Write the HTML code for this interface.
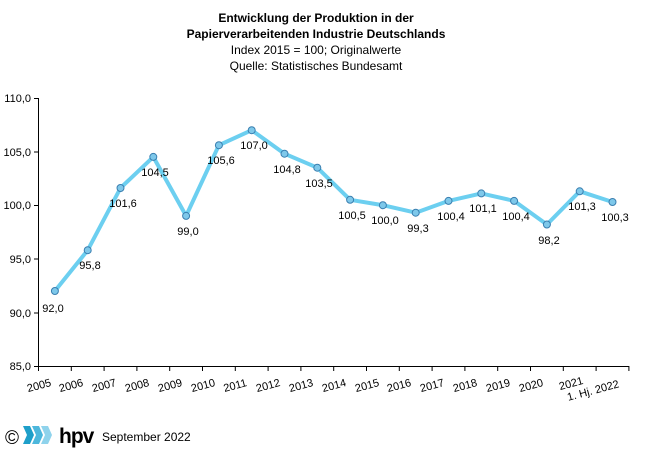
<!DOCTYPE html>
<html><head><meta charset="utf-8"><style>
body{margin:0;background:#fff;}
svg{display:block;font-family:"Liberation Sans",Arial,sans-serif;}
</style></head><body>
<svg width="650" height="472" viewBox="0 0 650 472">
<g text-anchor="middle" font-size="12" fill="#000">
<text x="316" y="22" font-weight="bold">Entwicklung der Produktion  in der</text>
<text x="316" y="38" font-weight="bold">Papierverarbeitenden Industrie Deutschlands</text>
<text x="316" y="54">Index 2015  = 100;  Originalwerte</text>
<text x="316" y="70">Quelle:  Statistisches Bundesamt</text>
</g>
<g stroke="#000" stroke-width="1">
<line x1="38.5" y1="98" x2="38.5" y2="366"/>
<line x1="38" y1="366.5" x2="629" y2="366.5"/>
<line x1="34" y1="98.5" x2="38" y2="98.5"/>
<line x1="34" y1="152" x2="38" y2="152"/>
<line x1="34" y1="205.5" x2="38" y2="205.5"/>
<line x1="34" y1="259" x2="38" y2="259"/>
<line x1="34" y1="313" x2="38" y2="313"/>
<line x1="34" y1="366.5" x2="38" y2="366.5"/>
<path d="M38.5 366v5M71.3 366v5M104.1 366v5M136.9 366v5M169.7 366v5M202.5 366v5M235.3 366v5M268.1 366v5M300.9 366v5M333.7 366v5M366.5 366v5M399.3 366v5M432.1 366v5M464.9 366v5M497.7 366v5M530.5 366v5M563.3 366v5M596.1 366v5M628.9 366v5"/>
</g>
<g font-size="11" text-anchor="end">
<text x="31" y="102">110,0</text>
<text x="31" y="156">105,0</text>
<text x="31" y="209">100,0</text>
<text x="31" y="263">95,0</text>
<text x="31" y="317">90,0</text>
<text x="31" y="370">85,0</text>
</g>
<g font-size="11" text-anchor="middle">
<text transform="translate(40,389) rotate(-15)">2005</text>
<text transform="translate(72,389) rotate(-15)">2006</text>
<text transform="translate(105,389) rotate(-15)">2007</text>
<text transform="translate(138,389) rotate(-15)">2008</text>
<text transform="translate(171,389) rotate(-15)">2009</text>
<text transform="translate(204,389) rotate(-15)">2010</text>
<text transform="translate(236,389) rotate(-15)">2011</text>
<text transform="translate(269,389) rotate(-15)">2012</text>
<text transform="translate(302,389) rotate(-15)">2013</text>
<text transform="translate(335,389) rotate(-15)">2014</text>
<text transform="translate(368,389) rotate(-15)">2015</text>
<text transform="translate(400,389) rotate(-15)">2016</text>
<text transform="translate(433,389) rotate(-15)">2017</text>
<text transform="translate(466,389) rotate(-15)">2018</text>
<text transform="translate(499,389) rotate(-15)">2019</text>
<text transform="translate(532,389) rotate(-15)">2020</text>
<text transform="translate(572,387) rotate(-15)">2021</text>
<text transform="translate(594,394) rotate(-15)">1. Hj. 2022</text>
</g>
<polyline fill="none" stroke="#6ccff0" stroke-width="4" stroke-linejoin="round" points="54.9,291 87.7,250.2 120.5,188 153.3,156.9 186.1,215.9 218.9,145.2 251.7,130.2 284.5,153.7 317.3,167.7 350.1,199.8 382.9,205.2 415.7,212.7 448.5,200.9 481.3,193.4 514.1,200.9 546.9,224.5 579.7,191.3 612.5,202"/>
<g fill="#7ec8ea" stroke="#3a7fb0" stroke-width="1">
<circle cx="54.9" cy="291" r="3.5"/><circle cx="87.7" cy="250.2" r="3.5"/><circle cx="120.5" cy="188" r="3.5"/><circle cx="153.3" cy="156.9" r="3.5"/><circle cx="186.1" cy="215.9" r="3.5"/><circle cx="218.9" cy="145.2" r="3.5"/><circle cx="251.7" cy="130.2" r="3.5"/><circle cx="284.5" cy="153.7" r="3.5"/><circle cx="317.3" cy="167.7" r="3.5"/><circle cx="350.1" cy="199.8" r="3.5"/><circle cx="382.9" cy="205.2" r="3.5"/><circle cx="415.7" cy="212.7" r="3.5"/><circle cx="448.5" cy="200.9" r="3.5"/><circle cx="481.3" cy="193.4" r="3.5"/><circle cx="514.1" cy="200.9" r="3.5"/><circle cx="546.9" cy="224.5" r="3.5"/><circle cx="579.7" cy="191.3" r="3.5"/><circle cx="612.5" cy="202" r="3.5"/>
</g>
<g font-size="11" text-anchor="middle">
<text x="53" y="312">92,0</text>
<text x="90" y="269">95,8</text>
<text x="123" y="207">101,6</text>
<text x="155" y="176">104,5</text>
<text x="188" y="235">99,0</text>
<text x="221" y="164">105,6</text>
<text x="254" y="149">107,0</text>
<text x="287" y="173">104,8</text>
<text x="319" y="187">103,5</text>
<text x="352" y="219">100,5</text>
<text x="385" y="224">100,0</text>
<text x="418" y="232">99,3</text>
<text x="451" y="220">100,4</text>
<text x="483" y="212">101,1</text>
<text x="516" y="220">100,4</text>
<text x="549" y="244">98,2</text>
<text x="582" y="210">101,3</text>
<text x="615" y="221">100,3</text>
</g>
<text x="5" y="444" font-size="19">©</text>
<polygon points="23,426 30,426 34,435 30,444 23,444 27,435" fill="#1e9fc9"/>
<polygon points="32,426 39,426 43,435 39,444 32,444 36,435" fill="#4db7dc"/>
<polygon points="41,426 48,426 52,435 48,444 41,444 45,435" fill="#8fd3ec"/>
<text x="59" y="443" font-size="21" font-weight="bold" letter-spacing="-1">hpv</text>
<text x="102" y="441" font-size="12">September 2022</text>
</svg>
</body></html>
